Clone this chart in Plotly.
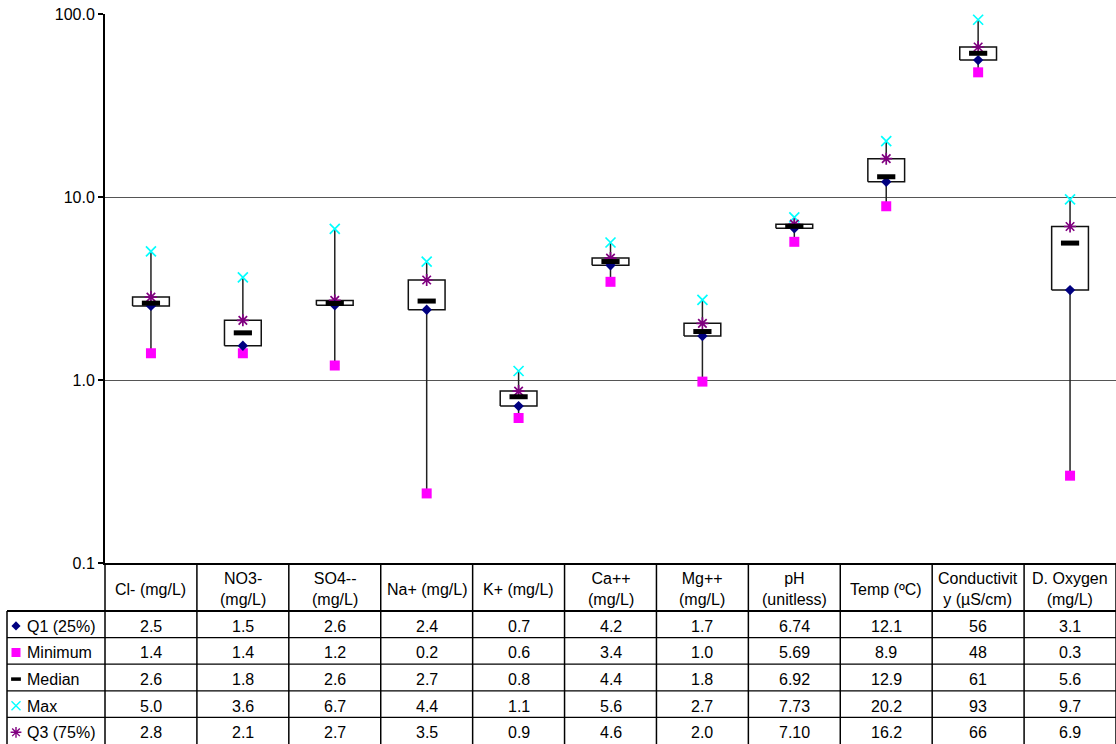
import plotly.graph_objects as go

# ---------------- data ----------------
categories = ["Cl- (mg/L)", "NO3-<br>(mg/L)", "SO4--<br>(mg/L)", "Na+ (mg/L)", "K+ (mg/L)",
              "Ca++<br>(mg/L)", "Mg++<br>(mg/L)", "pH<br>(unitless)", "Temp (ºC)",
              "Conductivit<br>y (µS/cm)", "D. Oxygen<br>(mg/L)"]
q1 = [2.54, 1.54, 2.56, 2.42, 0.72, 4.24, 1.74, 6.74, 12.1, 56, 3.1]
minimum = [1.40, 1.40, 1.20, 0.24, 0.62, 3.44, 0.98, 5.69, 8.9, 48, 0.3]
median = [2.63, 1.81, 2.62, 2.70, 0.81, 4.44, 1.84, 6.92, 12.9, 61, 5.6]
maximum = [5.04, 3.64, 6.70, 4.43, 1.12, 5.64, 2.74, 7.73, 20.2, 93, 9.7]
q3 = [2.84, 2.12, 2.72, 3.52, 0.87, 4.64, 2.04, 7.10, 16.2, 66, 6.9]
decimals = [1, 1, 1, 1, 1, 1, 1, 2, 1, 0, 1]
row_labels = ["Q1 (25%)", "Minimum", "Median", "Max", "Q3 (75%)"]
tick_vals = [0.1, 1, 10, 100]
tick_text = ["0.1", "1.0", "10.0", "100.0"]

# ---------------- geometry ----------------
W, H = 1116, 744
PLOT_L, PLOT_T, PLOT_B, HEAD_B = 105, 14, 563, 611
LEG_L = 7
FONT = "Liberation Sans, Arial, sans-serif"
n = len(categories)
unit = (W - PLOT_L) / n                 # px per category
x2_left = -0.5 - PLOT_L / unit          # helper axis aligned with the main one
row_h = (H - HEAD_B) / len(row_labels)
y2_top = -0.5 - (HEAD_B - PLOT_B) / row_h
xs = list(range(n))
half = 0.2

styles = [
    dict(symbol="diamond", color="#000080", size=8, line=dict(width=0)),
    dict(symbol="square", color="#FF00FF", size=10, line=dict(width=0)),
    dict(symbol="line-ew-open", color="black", size=13, line=dict(color="black", width=5)),
    dict(symbol="x-thin-open", color="#00FFFF", size=10, line=dict(color="#00FFFF", width=1.7)),
    dict(symbol="asterisk-open", color="#800080", size=10, line=dict(color="#800080", width=1.7)),
]
leg_styles = [
    dict(symbol="diamond", color="#000080", size=7, line=dict(width=0)),
    dict(symbol="square", color="#FF00FF", size=9, line=dict(width=0)),
    dict(symbol="line-ew-open", color="black", size=7, line=dict(color="black", width=3.5)),
    dict(symbol="x-thin-open", color="#00FFFF", size=9, line=dict(color="#00FFFF", width=1.4)),
    dict(symbol="asterisk-open", color="#800080", size=9, line=dict(color="#800080", width=1.4)),
]
series = [q1, minimum, median, maximum, q3]

fig = go.Figure()

# whiskers
wx, wy = [], []
for i in xs:
    wx += [i, i, None]
    wy += [minimum[i], maximum[i], None]
fig.add_trace(go.Scatter(x=wx, y=wy, mode="lines", line=dict(color="#222", width=1.5),
                         showlegend=False, hoverinfo="skip"))

# boxes
bx, by = [], []
for i in xs:
    bx += [i - half, i + half, i + half, i - half, i - half, None]
    by += [q1[i], q1[i], q3[i], q3[i], q1[i], None]
fig.add_trace(go.Scatter(x=bx, y=by, mode="lines", fill="toself", fillcolor="white",
                         line=dict(color="#111", width=1.5), showlegend=False, hoverinfo="skip"))

# markers: draw order Min, Max, Q3, Q1, Median
for k in [1, 3, 4, 0, 2]:
    fig.add_trace(go.Scatter(x=xs, y=series[k], mode="markers", name=row_labels[k],
                             marker=styles[k], showlegend=False, cliponaxis=False))

# legend glyphs in the table
leg_x = x2_left + 16 / unit
for r in range(5):
    fig.add_trace(go.Scatter(x=[leg_x], y=[r + 0.06], xaxis="x2", yaxis="y2", mode="markers",
                             marker=leg_styles[r], showlegend=False, cliponaxis=False,
                             hoverinfo="skip"))

shapes = []
LC = "black"
for i in range(n + 1):
    shapes.append(dict(type="line", xref="x2", yref="y2", x0=i - 0.5, x1=i - 0.5,
                       y0=y2_top, y1=len(row_labels) - 0.5, line=dict(color=LC, width=1.5)))
lx = x2_left + LEG_L / unit
shapes.append(dict(type="line", xref="x2", yref="y2", x0=lx, x1=lx, y0=-0.5,
                   y1=len(row_labels) - 0.5, line=dict(color=LC, width=1.5)))
for r in range(len(row_labels)):
    shapes.append(dict(type="line", xref="x2", yref="y2", x0=lx, x1=n - 0.5,
                       y0=r - 0.5, y1=r - 0.5, line=dict(color=LC, width=2 if r == 0 else 1.2)))

annotations = []
for i, c in enumerate(categories):
    annotations.append(dict(xref="x2", yref="y2", x=i, y=(y2_top - 0.5) / 2, text=c,
                            showarrow=False, yshift=-2,
                            font=dict(family=FONT, size=16, color="black"), align="center"))
for r in range(5):
    vals = series[r]
    for i in xs:
        annotations.append(dict(xref="x2", yref="y2", x=i, y=r, yshift=-2,
                                text=f"{vals[i]:.{decimals[i]}f}", showarrow=False,
                                font=dict(family=FONT, size=16, color="black")))
    annotations.append(dict(xref="x2", yref="y2", x=x2_left + 25 / unit, y=r, xanchor="left",
                            yshift=-2, text=row_labels[r], showarrow=False,
                            font=dict(family=FONT, size=16, color="black")))

fig.update_layout(
    width=W, height=H, autosize=False,
    margin=dict(l=0, r=0, t=0, b=0),
    paper_bgcolor="white", plot_bgcolor="rgba(0,0,0,0)",
    font=dict(family=FONT, size=16, color="black"),
    showlegend=False,
    xaxis=dict(domain=[PLOT_L / W, 1], range=[-0.5, n - 0.5], showticklabels=False,
               showgrid=False, zeroline=False, showline=True, linecolor="black",
               linewidth=2, ticks="", fixedrange=True),
    yaxis=dict(domain=[(H - PLOT_B) / H, (H - PLOT_T) / H], type="log", range=[-1, 2],
               tickvals=tick_vals, ticktext=tick_text, ticks="outside", ticklen=5,
               tickcolor="black", tickwidth=1.5, showline=True, linecolor="black", linewidth=2,
               showgrid=True, gridcolor="#555", gridwidth=1.2, zeroline=False,
               automargin=False, tickfont=dict(family=FONT, size=16, color="black")),
    xaxis2=dict(domain=[0, 1], range=[x2_left, n - 0.5], anchor="y2", visible=False,
                fixedrange=True, automargin=False),
    yaxis2=dict(domain=[0, (H - PLOT_B) / H], range=[len(row_labels) - 0.5, y2_top],
                anchor="x2", visible=False, fixedrange=True, automargin=False),
    shapes=shapes,
    annotations=annotations,
)

fig.write_html("out.html", config=dict(responsive=False, displayModeBar=False),
               post_script="document.body.style.margin='0px';document.body.style.overflow='hidden';")
